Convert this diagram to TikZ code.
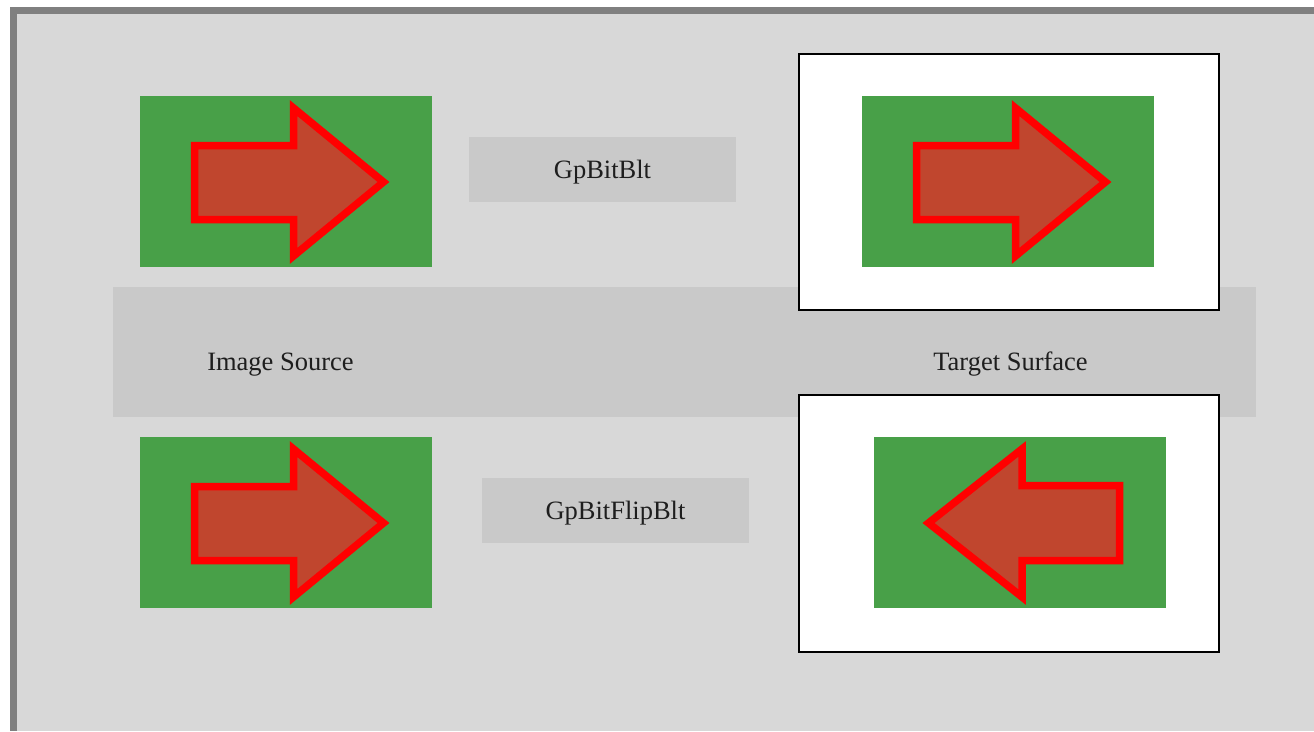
\documentclass[tikz,border=0pt]{standalone}
\usepackage{fontspec}
\setmainfont{Liberation Serif}
\definecolor{framegray}{RGB}{128,128,128}
\definecolor{bgc}{RGB}{216,216,216}
\definecolor{bandc}{RGB}{201,201,201}
\definecolor{imggreen}{RGB}{72,160,72}
\definecolor{arrowfill}{RGB}{192,70,46}
\definecolor{textc}{RGB}{30,30,30}
\tikzset{
  greenimg/.style={fill=imggreen, draw=none, inner sep=0pt, minimum width=292pt, minimum height=171pt, anchor=north west},
  whitebox/.style={fill=white, draw=black, line width=2pt, inner sep=0pt, anchor=north west},
  redarrow/.style={draw=red, line width=7.5pt, fill=arrowfill, line join=miter, miter limit=10},
  lblbox/.style={fill=bandc, draw=none, inner sep=0pt, minimum width=267pt, minimum height=65pt},
  lbl/.style={font=\fontsize{26.5}{30}\selectfont, text=textc, inner sep=0pt, anchor=base}
}
\begin{document}
\begin{tikzpicture}[x=1pt,y=-1pt]
\useasboundingbox (0,0) rectangle (1314,731);
% frame and background
\fill[framegray] (10,7) rectangle (1314,731);
\fill[bgc] (17,14) rectangle (1314,731);
% middle band
\node[fill=bandc, draw=none, inner sep=0pt, minimum width=1143pt, minimum height=130pt, anchor=north west] (band) at (113,287) {};
% target boxes
\node[whitebox, minimum width=420pt, minimum height=256pt] (tgt1) at (798,53) {};
\node[whitebox, minimum width=420pt, minimum height=257pt] (tgt2) at (798,394) {};
% green images
\node[greenimg] (src1) at (140,96) {};
\node[greenimg] (src2) at (140,437) {};
\node[greenimg] (dst1) at (862,96) {};
\node[greenimg] (dst2) at (874,437) {};
% arrows
\draw[redarrow] (194.5,145.5) -- (293.5,145.5) -- (293.5,108) -- (383.5,182) -- (293.5,256) -- (293.5,219.5) -- (194.5,219.5) -- cycle;
\draw[redarrow] (194.5,486.5) -- (293.5,486.5) -- (293.5,449) -- (383.5,523) -- (293.5,597) -- (293.5,560.5) -- (194.5,560.5) -- cycle;
\draw[redarrow] (916.5,145.5) -- (1015.5,145.5) -- (1015.5,108) -- (1105.5,182) -- (1015.5,256) -- (1015.5,219.5) -- (916.5,219.5) -- cycle;
\draw[redarrow] (1119.5,485.5) -- (1022,485.5) -- (1022,449) -- (928.5,523) -- (1022,597) -- (1022,560.5) -- (1119.5,560.5) -- cycle;
% operation label boxes
\node[lblbox] (bltbox) at (602.5,169.5) {};
\node[lblbox] (flipbox) at (615.5,510.5) {};
\node[lbl] (blt) at (602.5,178) {GpBitBlt};
\node[lbl] (flip) at (615.5,519) {GpBitFlipBlt};
% band labels
\node[lbl] (srclbl) at (280.5,370) {Image Source};
\node[lbl] (tgtlbl) at (1010.5,370) {Target Surface};
\end{tikzpicture}
\end{document}
